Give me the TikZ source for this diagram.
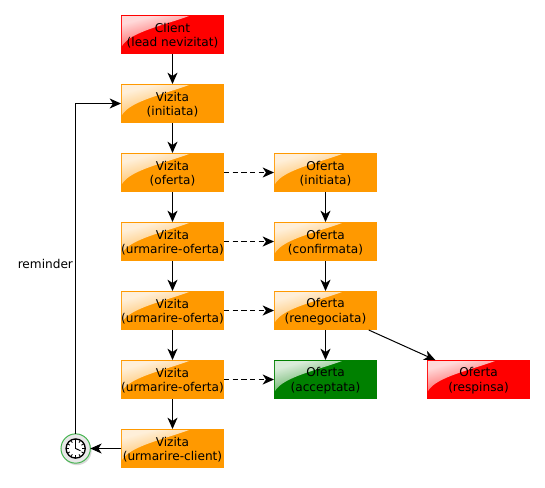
\documentclass[tikz,border=0pt]{standalone}
\usepackage{fontspec}
\setmainfont{DejaVu Sans}
\usetikzlibrary{arrows.meta,positioning,fadings,shadows}

\tikzfading[name=glossfade, left color=transparent!15, right color=transparent!97]

\begin{document}
\begin{tikzpicture}[
      x=0.75pt, y=0.75pt,
      node distance=22.5pt and 37.5pt,
      every node/.style={font=\fontsize{9.1}{10.8}\selectfont},
      state/.style={rectangle, minimum width=77.25pt, minimum height=29.25pt, inner sep=0pt,
        outer sep=0pt, align=center, text height=19.6pt, path picture={
          \fill[white, path fading=glossfade, fading angle=-55]
            (path picture bounding box.north west) ++(1,-1) -- ++(67,0)
            .. controls ++(-24,-9) and ++(8,14) .. ++(-67,-30) -- cycle;
        }},
      visit/.style={state, fill=orangebox},
      lost/.style={state, fill=redbox},
      won/.style={state, fill=greenbox},
      clock/.style={circle, draw=clockgreen, line width=0.75pt, fill=gray!18, minimum size=22pt,
        inner sep=0pt, outer sep=0pt, drop shadow={shadow xshift=1pt, shadow yshift=-1.5pt, opacity=0.3}},
      arr/.style={line width=0.75pt, -{Stealth[length=8.5pt, width=7.5pt, inset=2.5pt]}},
      darr/.style={arr, dash pattern=on 4pt off 2.5pt}
    ]
    \definecolor{orangebox}{RGB}{255,153,0}
    \definecolor{redbox}{RGB}{255,0,0}
    \definecolor{greenbox}{RGB}{0,128,0}
    \definecolor{clockgreen}{RGB}{70,180,80}

    \useasboundingbox (-172.5,34.5) rectangle (372.5,-452.5);

    % --- Vizita column ---
    \node[lost] (client) {Client\\(lead nevizitat)};
    \node[visit, below=of client] (v1) {Vizita\\(initiata)};
    \node[visit, below=of v1] (v2) {Vizita\\(oferta)};
    \node[visit, below=of v2] (v3) {Vizita\\(urmarire-oferta)};
    \node[visit, below=of v3] (v4) {Vizita\\(urmarire-oferta)};
    \node[visit, below=of v4] (v5) {Vizita\\(urmarire-oferta)};
    \node[visit, below=of v5] (v6) {Vizita\\(urmarire-client)};

    % --- Oferta column ---
    \node[visit, right=of v2] (o1) {Oferta\\(initiata)};
    \node[visit, right=of v3] (o2) {Oferta\\(confirmata)};
    \node[visit, right=of v4] (o3) {Oferta\\(renegociata)};
    \node[won, right=of v5] (o4) {Oferta\\(acceptata)};
    \node[lost, right=of o4] (o5) {Oferta\\(respinsa)};

    % --- Reminder clock ---
    \node[clock, left=23pt of v6] (timer) {};
    \draw[line width=1pt, fill=white] (timer.center) circle (7.2pt);
    \foreach \a in {0,30,...,330}
      \draw[line width=0.6pt] (timer.center) ++(\a:5pt) -- ++(\a:2pt);
    \draw[line width=0.7pt] (timer.center) -- ++(90:5pt);
    \draw[line width=0.7pt] (timer.center) -- ++(-25:4pt);

    \draw[arr] (client) -- (v1);
    \draw[arr] (v1) -- (v2);
    \draw[arr] (v2) -- (v3);
    \draw[arr] (v3) -- (v4);
    \draw[arr] (v4) -- (v5);
    \draw[arr] (v5) -- (v6);
    \draw[arr] (o1) -- (o2);
    \draw[arr] (o2) -- (o3);
    \draw[arr] (o3) -- (o4);
    \draw[arr] (o3) -- (o5);

    \draw[darr] (v2) -- (o1);
    \draw[darr] (v3) -- (o2);
    \draw[darr] (v4) -- (o3);
    \draw[darr] (v5) -- (o4);

    \draw[arr] (v6) -- (timer);
    \draw[arr] (timer) |- node[pos=0.2576, left=-1.7pt] (remind) {reminder} (v1);
  \end{tikzpicture}
\end{document}
